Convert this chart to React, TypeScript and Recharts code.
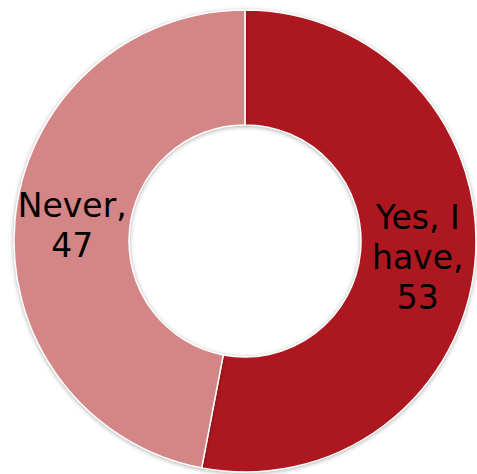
import { PieChart, Pie, Cell } from 'recharts';

const categories = ['Yes, I have', 'Never'];
const values = [53, 47];
const labelLines = [
  ['Yes, I', 'have,', '53'],
  ['Never,', '47'],
];
const COLORS = ['#AD1820', '#D48585'];

const data = categories.map((name, i) => ({ name, value: values[i], lines: labelLines[i] }));

const RADIAN = Math.PI / 180;

function renderLabel(props: any) {
  const { cx, cy, midAngle, innerRadius, outerRadius, index } = props;
  const r = (innerRadius + outerRadius) / 2;
  const x = cx + r * Math.cos(-midAngle * RADIAN);
  const y = cy + r * Math.sin(-midAngle * RADIAN);
  const lines = data[index].lines;
  const lh = 40;
  const top = y - ((lines.length - 1) * lh) / 2;
  return (
    <text
      key={index}
      x={x}
      y={top}
      textAnchor="middle"
      dominantBaseline="central"
      fill="#000"
      fontSize={33}
      fontFamily="'DejaVu Sans', Verdana, sans-serif"
    >
      {lines.map((l: string, i: number) => (
        <tspan key={i} x={x} y={top + i * lh}>
          {l}
        </tspan>
      ))}
    </text>
  );
}

export default function App() {
  return (
    <div style={{ position: 'absolute', left: 0, top: 0, width: 477, height: 474, background: '#fff' }}>
      <PieChart width={477} height={474} margin={{ top: 0, right: 0, bottom: 0, left: 0 }}>
        <Pie
          data={data}
          dataKey="value"
          cx={245}
          cy={241}
          innerRadius={116}
          outerRadius={231}
          startAngle={90}
          endAngle={-270}
          stroke="#fff"
          strokeWidth={1.5}
          label={renderLabel}
          labelLine={false}
          isAnimationActive={false}
        >
          {data.map((d, i) => (
            <Cell
              key={d.name}
              fill={COLORS[i]}
              style={{ filter: 'drop-shadow(0px 1px 2px rgba(0,0,0,0.3))' }}
            />
          ))}
        </Pie>
      </PieChart>
    </div>
  );
}
